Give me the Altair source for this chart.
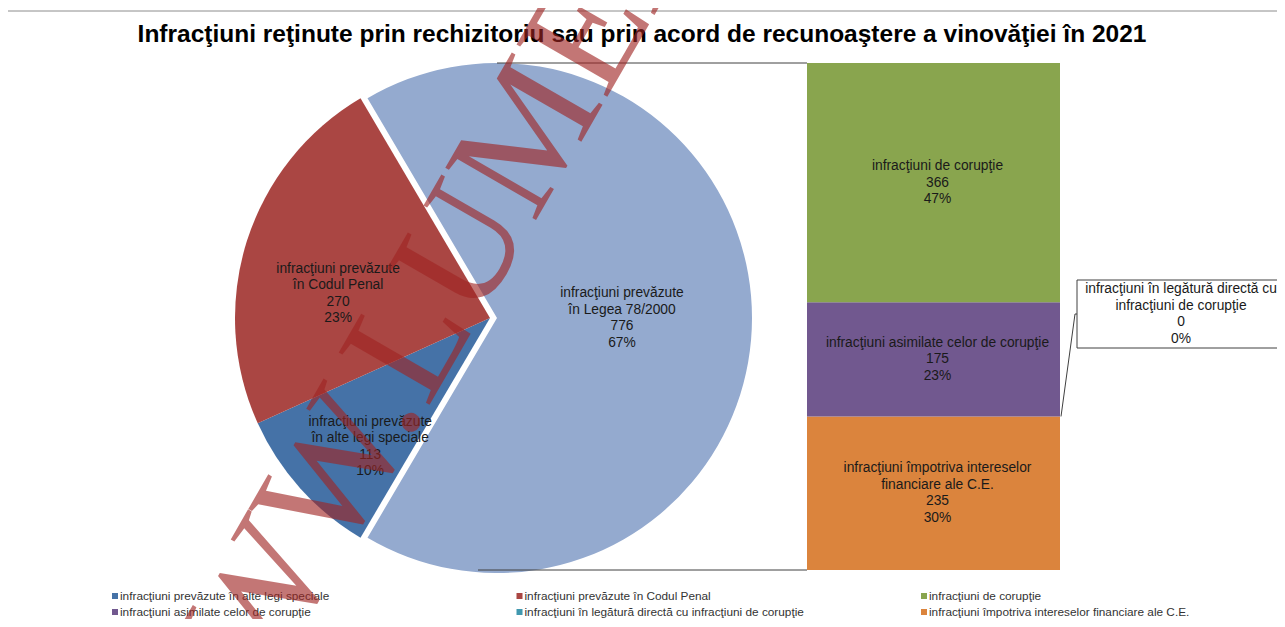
import math
import altair as alt
import pandas as pd

# ---------------- data ----------------
title_text = "Infracţiuni reţinute prin rechizitoriu sau prin acord de recunoaştere a vinovăţiei în 2021"

pie_categories = [
    "infracţiuni prevăzute în Legea 78/2000",
    "infracţiuni prevăzute în alte legi speciale",
    "infracţiuni prevăzute în Codul Penal",
]
pie_label_names = [
    "infracţiuni prevăzute\nîn Legea 78/2000",
    "infracţiuni prevăzute\nîn alte legi speciale",
    "infracţiuni prevăzute\nîn Codul Penal",
]
pie_values = [776, 113, 270]
pie_pcts = [67, 10, 23]

# bottom to top of the stacked column
bar_categories = [
    "infracţiuni împotriva intereselor financiare ale C.E.",
    "infracţiuni în legătură directă cu infracţiuni de corupţie",
    "infracţiuni asimilate celor de corupţie",
    "infracţiuni de corupţie",
]
bar_label_names = [
    "infracţiuni împotriva intereselor\nfinanciare ale C.E.",
    "infracţiuni în legătură directă cu\ninfracţiuni de corupţie",
    "infracţiuni asimilate celor de corupţie",
    "infracţiuni de corupţie",
]
bar_values = [235, 0, 175, 366]
bar_pcts = [30, 0, 23, 47]

legend_order = [
    "infracţiuni prevăzute în alte legi speciale",
    "infracţiuni prevăzute în Codul Penal",
    "infracţiuni de corupţie",
    "infracţiuni asimilate celor de corupţie",
    "infracţiuni în legătură directă cu infracţiuni de corupţie",
    "infracţiuni împotriva intereselor financiare ale C.E.",
]

color_domain = [
    "infracţiuni prevăzute în Legea 78/2000",
    "infracţiuni prevăzute în alte legi speciale",
    "infracţiuni prevăzute în Codul Penal",
    "infracţiuni de corupţie",
    "infracţiuni asimilate celor de corupţie",
    "infracţiuni în legătură directă cu infracţiuni de corupţie",
    "infracţiuni împotriva intereselor financiare ale C.E.",
]
color_range = ["#94AACF", "#4572A7", "#AA4643", "#89A54E", "#71588F", "#4198AF", "#DB843D"]

watermark_text = "WWW.LUMEAJUSTITIEI.RO"

# ---------------- tables ----------------
pie_df = pd.DataFrame({
    "cat": pie_categories,
    "v": pie_values,
    "ord": list(range(len(pie_values))),
    "label": [f"{n}\n{v}\n{p}%" for n, v, p in zip(pie_label_names, pie_values, pie_pcts)],
})
bar_df = pd.DataFrame({
    "cat": bar_categories,
    "v": bar_values,
    "ord": list(range(len(bar_values))),
    "label": [f"{n}\n{v}\n{p}%" for n, v, p in zip(bar_label_names, bar_values, bar_pcts)],
})
legend_df = pd.DataFrame({
    "cat": legend_order,
    "col": [i % 3 for i in range(len(legend_order))],
    "row": [i // 3 for i in range(len(legend_order))],
})

W, H = 1269, 611
FONT = "Liberation Sans"
LFS = 13.8   # label font size
LH = 16.5    # label line height
color_scale = alt.Scale(domain=color_domain, range=color_range)
color_enc = alt.Color("cat:N", scale=color_scale, legend=None)

# ---------------- pie ----------------
pie_total = sum(pie_values)
other_frac = pie_values[0] / pie_total
start = math.pi / 2 - other_frac * math.pi  # centre the linked slice at 3 o'clock
theta_scale = alt.Scale(domain=[0, pie_total], range=[start, start + 2 * math.pi])

CX, CY, R, EXPLODE = 482, 310, 255, 7

pie_base = alt.Chart(pie_df).transform_stack(
    stack="v", groupby=[], as_=["p0", "p1"], sort=[alt.SortField("ord")]
).transform_calculate(pm="(datum.p0 + datum.p1) / 2")

pie_main = pie_base.transform_filter(alt.datum.ord > 0).mark_arc(radius=R).encode(
    theta=alt.Theta("p0:Q", scale=theta_scale, stack=None),
    theta2="p1:Q",
    color=color_enc,
    x=alt.value(CX), y=alt.value(CY),
)
pie_other = pie_base.transform_filter(alt.datum.ord == 0).mark_arc(radius=R).encode(
    theta=alt.Theta("p0:Q", scale=theta_scale, stack=None),
    theta2="p1:Q",
    color=color_enc,
    x=alt.value(CX + EXPLODE), y=alt.value(CY),
)

def pie_label(ordv, radius, cx, dx=0, dy=0):
    return pie_base.transform_filter(alt.datum.ord == ordv).mark_text(
        radius=radius, font=FONT, fontSize=LFS, lineBreak="\n", lineHeight=LH,
        color="#1a1a1a", align="center", baseline="middle",
        dx=dx, dy=dy - 1.5 * LH,
    ).encode(
        theta=alt.Theta("pm:Q", scale=theta_scale, stack=None),
        text="label:N",
        x=alt.value(cx), y=alt.value(CY),
    )

pie_labels = [
    pie_label(0, 125, CX + EXPLODE),
    pie_label(1, 192, CX, dx=23),
    pie_label(2, 174, CX, dx=14, dy=28),
]

# ---------------- bar of pie ----------------
BX0, BX1 = 799, 1052
BTOP, BBOT = 55, 562
bar_total = sum(bar_values)
y_scale = alt.Scale(domain=[0, bar_total], range=[BBOT, BTOP])

bar_base = alt.Chart(bar_df).transform_stack(
    stack="v", groupby=[], as_=["b0", "b1"], sort=[alt.SortField("ord")]
).transform_calculate(bm="(datum.b0 + datum.b1) / 2")

bars = bar_base.mark_rect().encode(
    x=alt.value(BX0), x2=alt.value(BX1),
    y=alt.Y("b0:Q", scale=y_scale, axis=None), y2="b1:Q",
    color=color_enc,
)

def bar_label(ordv, nlines):
    return bar_base.transform_filter(alt.datum.ord == ordv).mark_text(
        font=FONT, fontSize=LFS, lineBreak="\n", lineHeight=LH, color="#1a1a1a",
        align="center", baseline="middle", dy=-(nlines - 1) * LH / 2,
    ).encode(
        x=alt.value((BX0 + BX1) / 2 + 4),
        y=alt.Y("bm:Q", scale=y_scale, axis=None),
        text="label:N",
    )

bar_labels = [bar_label(0, 4), bar_label(2, 3), bar_label(3, 3)]

# callout for the zero segment
BOX_X0, BOX_X1, BOX_Y0, BOX_Y1 = 1069, 1320, 272, 340
BOX_MID = (BOX_Y0 + BOX_Y1) / 2
zero = bar_base.transform_filter(alt.datum.v == 0)
leader = zero.mark_rule(color="#404040", strokeWidth=1).encode(
    x=alt.value(BX1 + 1), x2=alt.value(BOX_X0 - 2),
    y=alt.Y("bm:Q", scale=y_scale, axis=None), y2=alt.value(BOX_MID),
)
leader2 = zero.mark_rule(color="#404040", strokeWidth=1).encode(
    x=alt.value(BOX_X0 - 2), x2=alt.value(BOX_X0),
    y=alt.value(BOX_MID),
)
box = zero.mark_rect(fill="white", stroke="#404040", strokeWidth=1).encode(
    x=alt.value(BOX_X0), x2=alt.value(BOX_X1),
    y=alt.value(BOX_Y0), y2=alt.value(BOX_Y1),
)
box_text = zero.mark_text(
    font=FONT, fontSize=LFS, lineBreak="\n", lineHeight=LH, color="#1a1a1a",
    align="center", baseline="middle", dy=-1.5 * LH,
).encode(
    x=alt.value(1173), y=alt.value(BOX_MID), text="label:N",
)

# connector lines pie -> column
conn_src = alt.Chart(pd.DataFrame({"k": [0]}))
conn_top = conn_src.mark_rule(color="#404040", strokeWidth=1).encode(
    x=alt.value(CX + EXPLODE), x2=alt.value(BX0), y=alt.value(BTOP),
)
conn_bot = conn_src.mark_rule(color="#404040", strokeWidth=1).encode(
    x=alt.value(CX - 12), x2=alt.value(BX0), y=alt.value(BBOT),
)
border_top = conn_src.mark_rule(color="#8c8c8c", strokeWidth=1).encode(
    x=alt.value(0), x2=alt.value(W), y=alt.value(3),
)

# ---------------- legend ----------------
leg_x = alt.Scale(domain=[0, 2], range=[107, 916])
LEG_Y = [588, 604]
legend_layers = []
for r, yy in enumerate(LEG_Y):
    sub = alt.Chart(legend_df).transform_filter(alt.datum.row == r)
    legend_layers.append(sub.mark_square(size=36, opacity=1).encode(
        x=alt.X("col:Q", scale=leg_x, axis=None), y=alt.value(yy), color=color_enc,
    ))
    legend_layers.append(sub.mark_text(
        font=FONT, fontSize=11.8, color="#333333", align="left", baseline="middle", dx=5,
    ).encode(
        x=alt.X("col:Q", scale=leg_x, axis=None), y=alt.value(yy), text="cat:N",
    ))

# ---------------- title ----------------
title = alt.Chart(pd.DataFrame({"t": [title_text]})).mark_text(
    font=FONT, fontSize=24.5, fontWeight="bold", color="#000000",
    align="center", baseline="alphabetic",
).encode(x=alt.value(634), y=alt.value(34), text="t:N")

# ---------------- watermark ----------------
watermark = alt.Chart(pd.DataFrame({"t": [watermark_text]})).mark_text(
    font="Liberation Serif", fontSize=160, color="#A02422", opacity=0.62,
    align="left", baseline="alphabetic", angle=300,
).encode(x=alt.value(180), y=alt.value(815), text="t:N")

chart = alt.layer(
    pie_main, pie_other, *pie_labels,
    conn_top, conn_bot,
    bars, *bar_labels,
    leader, leader2, box, box_text,
    *legend_layers,
    title, border_top,
    watermark,
).properties(
    width=W, height=H, padding=0,
    autosize=alt.AutoSizeParams(type="none"),
).configure_view(stroke=None)

chart.save("out.html", embed_options={"renderer": "svg", "actions": False})
